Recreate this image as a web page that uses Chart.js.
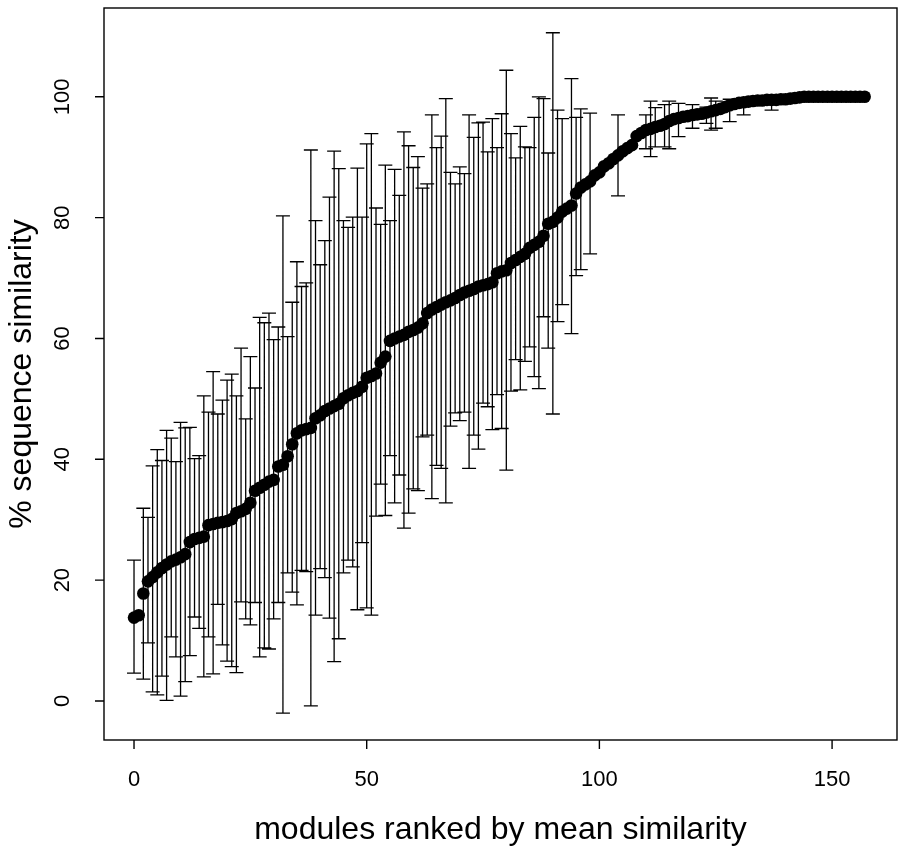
<!DOCTYPE html>
<html>
<head>
<meta charset="utf-8">
<script src="https://cdn.jsdelivr.net/npm/chart.js@4"></script>
<style>
  html, body { margin: 0; padding: 0; background: #fff; }
  canvas { display: block; }
</style>
</head>
<body>
<canvas id="chartModules" width="917" height="850"></canvas>
<script>
(function () {
    'use strict';

    // mean % similarity per module, in rank order (x = 0, 1, 2 ...)
    var similarity = [
        13.8, 14.2, 17.8, 19.8, 20.5, 21.3, 22.0, 22.6, 23.1, 23.4,
        23.8, 24.3, 26.3, 26.8, 27.0, 27.2, 29.1, 29.3, 29.5, 29.6,
        29.8, 30.1, 31.1, 31.4, 31.8, 32.8, 34.8, 35.3, 35.8, 36.3,
        36.6, 38.8, 39.1, 40.5, 42.5, 44.3, 44.8, 45.0, 45.2, 46.8,
        47.3, 48.0, 48.4, 48.8, 49.2, 50.1, 50.6, 51.0, 51.3, 52.0,
        53.5, 53.8, 54.2, 56.0, 57.0, 59.6, 60.0, 60.3, 60.6, 61.1,
        61.4, 61.8, 62.5, 64.2, 64.8, 65.2, 65.6, 66.0, 66.3, 66.7,
        67.2, 67.6, 67.9, 68.2, 68.6, 68.8, 69.0, 69.3, 70.8, 71.1,
        71.3, 72.5, 73.0, 73.5, 74.0, 75.0, 75.5, 76.0, 77.0, 79.0,
        79.3, 80.0, 81.0, 81.5, 82.0, 84.0, 85.0, 85.5, 86.0, 87.0,
        87.5, 88.5, 89.0, 89.7, 90.3, 91.0, 91.5, 92.0, 93.5, 94.0,
        94.5, 94.7, 95.0, 95.2, 95.5, 96.0, 96.3, 96.5, 96.7, 96.8,
        97.0, 97.1, 97.2, 97.4, 97.6, 97.8, 98.0, 98.3, 98.6, 98.8,
        99.0, 99.1, 99.2, 99.3, 99.4, 99.4, 99.5, 99.5, 99.5, 99.6,
        99.6, 99.7, 99.8, 99.9, 100, 100, 100, 100, 100, 100,
        100, 100, 100, 100, 100, 100, 100, 100
    ];

    // error bar ends (null = no bar drawn)
    var upper = [
        23.3, null, 31.9, 30.4, 38.9, 41.6, 39.8, 44.8, 43.5, 39.6,
        46.1, 45.2, 45.3, 40.1, 40.6, 50.5, 47.8, 54.5, 47.5, 49.8,
        53.1, 54.1, 50.5, 58.4, 46.7, 57.0, 51.8, 63.5, 62.6, 64.2,
        59.8, 61.9, 80.3, 60.3, 66.0, 72.7, 68.6, 69.2, 91.2, 79.5,
        72.2, 76.2, 83.4, 91.0, 88.1, 79.5, 78.4, 80.1, 88.2, 80.1,
        92.2, 93.9, 81.6, 78.9, 88.7, 79.5, 88.0, 83.7, 94.2, 91.9,
        88.3, 90.1, 84.9, 85.6, 97.0, 91.6, 93.5, 99.7, 87.5, 85.6,
        88.4, 87.3, 97.0, 93.3, 95.7, 95.8, 90.9, 96.4, 91.6, 97.2,
        104.4, 93.9, 89.9, 95.1, 91.7, 91.6, 96.6, 100.0, 99.7, 90.7,
        110.6, 97.8, 96.4, null, 103.0, 96.6, 98.0, null, 97.3, null,
        null, null, null, null, 97.0, null, null, null, null, null,
        97.0, 99.3, 98.2, null, 98.7, 99.3, null, 98.9, null, null,
        98.7, null, null, 98.3, 99.8, 99.3, null, null, 99.6, null,
        null, 99.3, null, null, null, null, null, 100.2, null, null,
        null, null, null, null, null, null, null, null, null, null,
        null, null, null, null, null, null, null, null
    ];
    var lower = [
        4.6, null, 3.6, 9.6, 1.5, 1.0, 4.1, 0.1, 10.6, 7.3,
        0.8, 3.2, 7.5, 13.9, 12.0, 4.0, 10.6, 4.5, 16.0, 9.3,
        6.6, 5.7, 4.7, 16.4, 13.6, 12.6, 16.3, 7.3, 8.8, 8.6,
        13.6, 16.3, -2.0, 21.2, 18.0, 15.9, 21.6, 21.4, -0.8, 14.2,
        21.9, 20.4, 13.7, 6.5, 10.3, 21.2, 23.3, 22.2, 15.1, 26.2,
        15.4, 14.2, 30.6, 35.9, 30.7, 40.6, 32.8, 37.4, 28.6, 31.1,
        35.1, 34.8, 43.7, 44.0, 33.5, 39.0, 38.5, 32.8, 45.5, 47.7,
        46.4, 47.8, 38.5, 44.0, 41.7, 49.3, 48.7, 44.9, 50.7, 45.1,
        38.2, 51.3, 56.5, 51.5, 56.2, 58.6, 53.7, 51.7, 63.6, 58.4,
        47.5, 62.8, 65.6, null, 60.8, 70.4, 71.4, null, 74.0, null,
        null, null, null, null, 83.6, null, null, null, null, null,
        91.4, 90.1, 91.7, null, 91.7, 91.4, null, 93.4, null, null,
        94.8, null, null, 95.6, 94.5, 94.8, null, null, 95.9, null,
        null, 97.0, null, null, null, null, null, 97.8, null, null,
        null, null, null, null, null, null, null, null, null, null,
        null, null, null, null, null, null, null, null
    ];

    var xTicks = [0, 50, 100, 150];
    var yTicks = [0, 20, 40, 60, 80, 100];
    var xTitle = 'modules ranked by mean similarity';
    var yTitle = '% sequence similarity';

    var font = '"Liberation Sans", Arial, Helvetica, sans-serif';

    var rStyle = {
        id: 'rStyle',
        beforeDatasetsDraw: function (chart) {
            var ctx = chart.ctx;
            var xs = chart.scales.x, ys = chart.scales.y;
            ctx.save();
            ctx.strokeStyle = '#000';
            ctx.lineWidth = 1.3;
            ctx.beginPath();
            for (var i = 0; i < similarity.length; i++) {
                if (upper[i] == null || lower[i] == null) continue;
                var px = xs.getPixelForValue(i);
                var top = ys.getPixelForValue(upper[i]);
                var bot = ys.getPixelForValue(lower[i]);
                ctx.moveTo(px, top); ctx.lineTo(px, bot);
                ctx.moveTo(px - 7, top); ctx.lineTo(px + 7, top);
                ctx.moveTo(px - 7, bot); ctx.lineTo(px + 7, bot);
            }
            ctx.stroke();
            ctx.restore();
        },
        afterDraw: function (chart) {
            var ctx = chart.ctx;
            var a = chart.chartArea;
            var xs = chart.scales.x, ys = chart.scales.y;
            ctx.save();
            ctx.strokeStyle = '#000';
            ctx.fillStyle = '#000';
            ctx.lineWidth = 1.4;
            ctx.strokeRect(a.left, a.top, a.right - a.left, a.bottom - a.top);

            ctx.beginPath();
            xTicks.forEach(function (t) {
                var px = xs.getPixelForValue(t);
                ctx.moveTo(px, a.bottom); ctx.lineTo(px, a.bottom + 9);
            });
            yTicks.forEach(function (t) {
                var py = ys.getPixelForValue(t);
                ctx.moveTo(a.left, py); ctx.lineTo(a.left - 9, py);
            });
            ctx.stroke();

            ctx.font = '22px ' + font;
            ctx.textAlign = 'center';
            ctx.textBaseline = 'middle';
            xTicks.forEach(function (t) {
                ctx.fillText(String(t), xs.getPixelForValue(t), a.bottom + 40);
            });
            yTicks.forEach(function (t) {
                ctx.save();
                ctx.translate(a.left - 41, ys.getPixelForValue(t));
                ctx.rotate(-Math.PI / 2);
                ctx.fillText(String(t), 0, 0);
                ctx.restore();
            });

            ctx.font = '32px ' + font;
            ctx.fillText(xTitle, (a.left + a.right) / 2, a.bottom + 90);
            ctx.save();
            ctx.translate(a.left - 82, (a.top + a.bottom) / 2);
            ctx.rotate(-Math.PI / 2);
            ctx.fillText(yTitle, 0, 0);
            ctx.restore();
            ctx.restore();
        }
    };

    new Chart(document.getElementById('chartModules'), {
        type: 'scatter',
        data: {
            datasets: [{
                data: similarity.map(function (v, i) { return { x: i, y: v }; }),
                backgroundColor: '#000',
                borderWidth: 0,
                pointRadius: 6.3,
                pointHoverRadius: 6.3,
            }],
        },
        options: {
            responsive: false,
            animation: false,
            layout: { padding: { left: 104, right: 20, top: 8, bottom: 110 } },
            plugins: { legend: { display: false }, tooltip: { enabled: false } },
            scales: {
                x: { type: 'linear', min: -6.45, max: 163.95, display: false },
                y: { type: 'linear', min: -6.46, max: 114.7, display: false },
            },
        },
        plugins: [rStyle],
    });
})();
</script>
</body>
</html>
